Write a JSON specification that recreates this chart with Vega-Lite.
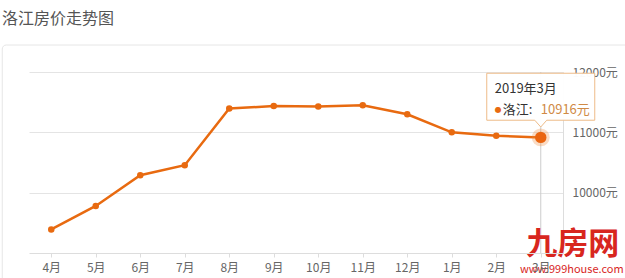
{
  "$schema": "https://vega.github.io/schema/vega-lite/v6.json",
  "width": 534,
  "height": 181,
  "autosize": {"type": "none"},
  "padding": {"left": 29, "top": 72, "right": 62, "bottom": 25},
  "background": "white",
  "title": {
    "text": "洛江房价走势图",
    "anchor": "start",
    "frame": "group",
    "dx": -27,
    "offset": 18,
    "font": "Noto Sans CJK SC",
    "fontSize": 16,
    "fontWeight": "normal",
    "color": "#555555"
  },
  "config": {
    "view": {"stroke": null},
    "font": "Noto Sans CJK SC",
    "text": {"font": "Noto Sans CJK SC", "fontWeight": "normal"}
  },
  "datasets": {
    "series": [
      {"month": "4月", "price": 9390},
      {"month": "5月", "price": 9780},
      {"month": "6月", "price": 10290},
      {"month": "7月", "price": 10455},
      {"month": "8月", "price": 11395},
      {"month": "9月", "price": 11435},
      {"month": "10月", "price": 11430},
      {"month": "11月", "price": 11450},
      {"month": "12月", "price": 11300},
      {"month": "1月", "price": 11000},
      {"month": "2月", "price": 10942},
      {"month": "3月", "price": 10916}
    ]
  },
  "data": {"name": "series"},
  "encoding": {
    "x": {
      "field": "month",
      "type": "ordinal",
      "sort": null,
      "scale": {"type": "point", "padding": 0.5, "domain": ["4月", "5月", "6月", "7月", "8月", "9月", "10月", "11月", "12月", "1月", "2月", "3月"]},
      "axis": {
        "title": null,
        "labelAngle": 0,
        "labelFontSize": 12,
        "labelColor": "#666666",
        "labelPadding": 5,
        "domainColor": "#dddddd",
        "tickColor": "#dddddd",
        "tickSize": 4,
        "grid": false
      }
    },
    "y": {
      "field": "price",
      "type": "quantitative",
      "scale": {"domain": [9000, 12000], "nice": false, "zero": false},
      "axis": {
        "orient": "right",
        "title": null,
        "values": [10000, 11000, 12000],
        "labelExpr": "datum.value + '元'",
        "labelFontSize": 12,
        "labelColor": "#666666",
        "labelPadding": 9,
        "ticks": false,
        "grid": true,
        "gridColor": "#e4e4e4",
        "domainColor": "#dddddd"
      }
    }
  },
  "layer": [
    {
      "transform": [{"filter": "datum.month == '3月'"}],
      "mark": {"type": "rect", "fill": null, "stroke": "#e6e6e6", "strokeWidth": 1, "cornerRadius": 4, "clip": false, "xOffset": -49, "x2Offset": 100, "yOffset": -27, "y2Offset": 40},
      "encoding": {
        "x": {"datum": "4月", "type": "ordinal"},
        "x2": {"datum": "3月"},
        "y": {"datum": 12000, "type": "quantitative"},
        "y2": {"datum": 9000}
      }
    },
    {
      "transform": [{"filter": "datum.month == '3月'"}],
      "mark": {"type": "rule", "color": "#cccccc", "strokeWidth": 1},
      "encoding": {
        "y": {"datum": 12000, "type": "quantitative"},
        "y2": {"datum": 9000}
      }
    },
    {
      "mark": {"type": "line", "color": "#e86a10", "strokeWidth": 2.5}
    },
    {
      "mark": {"type": "circle", "color": "#e86a10", "opacity": 1, "size": 42}
    },
    {
      "transform": [{"filter": "datum.month == '3月'"}],
      "mark": {"type": "circle", "color": "#f08a40", "opacity": 0.3, "size": 320}
    },
    {
      "transform": [{"filter": "datum.month == '3月'"}],
      "mark": {"type": "circle", "color": "#ea6510", "opacity": 1, "size": 130}
    },
    {
      "transform": [{"filter": "datum.month == '3月'"}],
      "mark": {
        "type": "point",
        "filled": true,
        "fill": "white",
        "fillOpacity": 0.97,
        "stroke": "#eebb88",
        "strokeWidth": 1,
        "strokeOpacity": 1,
        "size": 11664,
        "shape": "M -1 -0.435 L 1 -0.435 L 1 0.435 L 0.111 0.435 L 0 0.56 L -0.111 0.435 L -1 0.435 Z"
      },
      "encoding": {
        "y": {"datum": 11590, "type": "quantitative"}
      }
    },
    {
      "transform": [{"filter": "datum.month == '3月'"}],
      "mark": {"type": "text", "text": "2019年3月", "align": "left", "baseline": "middle", "dx": -46, "fontSize": 13, "color": "#333333"},
      "encoding": {
        "y": {"datum": 11715, "type": "quantitative"}
      }
    },
    {
      "transform": [{"filter": "datum.month == '3月'"}],
      "mark": {"type": "text", "text": "●", "align": "left", "baseline": "middle", "dx": -46, "font": "DejaVu Sans", "fontSize": 8, "color": "#e86a10"},
      "encoding": {
        "y": {"datum": 11368, "type": "quantitative"}
      }
    },
    {
      "transform": [{"filter": "datum.month == '3月'"}],
      "mark": {"type": "text", "text": "洛江:", "align": "left", "baseline": "middle", "dx": -38, "fontSize": 13, "color": "#333333"},
      "encoding": {
        "y": {"datum": 11368, "type": "quantitative"}
      }
    },
    {
      "transform": [{"filter": "datum.month == '3月'"}],
      "mark": {"type": "text", "text": "10916元", "align": "left", "baseline": "middle", "dx": 0, "fontSize": 13, "color": "#d08a45"},
      "encoding": {
        "y": {"datum": 11368, "type": "quantitative"}
      }
    },
    {
      "transform": [{"filter": "datum.month == '3月'"}],
      "mark": {"type": "text", "text": "九房网", "align": "center", "baseline": "middle", "dx": 32, "dy": -8, "fontSize": 31, "fontWeight": "bold", "color": "#d8261e"},
      "encoding": {
        "y": {"datum": 9000, "type": "quantitative"}
      }
    },
    {
      "transform": [{"filter": "datum.month == '3月'"}],
      "mark": {"type": "text", "text": "www.999house.com", "align": "center", "baseline": "middle", "dx": 31, "dy": 17, "fontSize": 11, "color": "#d8261e"},
      "encoding": {
        "y": {"datum": 9000, "type": "quantitative"}
      }
    }
  ]
}
